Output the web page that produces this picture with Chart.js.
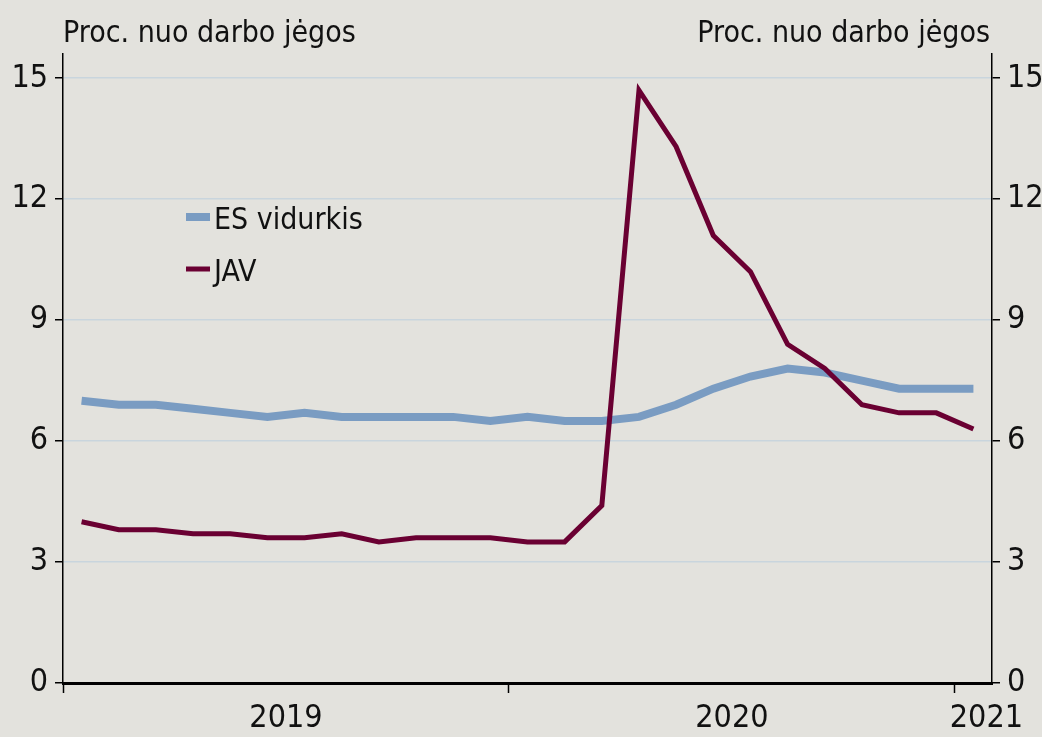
<!DOCTYPE html>
<html>
<head>
<meta charset="utf-8">
<script src="https://cdn.jsdelivr.net/npm/chart.js@4.4.0/dist/chart.umd.min.js"></script>
<style>
  html, body { margin: 0; padding: 0; background: #e3e2dd; }
  #wrap { width: 1042px; height: 737px; position: relative; }
</style>
</head>
<body>
<div id="wrap"><canvas id="unemploymentChart"></canvas></div>
<script>
const axisTitle = 'Proc. nuo darbo jėgos';
const seriesNames = ['ES vidurkis', 'JAV'];
// monthly, Jan 2019 .. Jan 2021
const esValues = [7.0, 6.9, 6.9, 6.8, 6.7, 6.6, 6.7, 6.6, 6.6, 6.6, 6.6, 6.5,
                  6.6, 6.5, 6.5, 6.6, 6.9, 7.3, 7.6, 7.8, 7.7, 7.5, 7.3, 7.3, 7.3];
const usValues = [4.0, 3.8, 3.8, 3.7, 3.7, 3.6, 3.6, 3.7, 3.5, 3.6, 3.6, 3.6,
                  3.5, 3.5, 4.4, 14.7, 13.3, 11.1, 10.2, 8.4, 7.8, 6.9, 6.7, 6.7, 6.3];
const yTicks = [0, 3, 6, 9, 12, 15];
const yearTicks = [0, 12, 24];          // month index where each year starts
const yearLabels = ['2019', '2020', '2021'];
const yearLabelPos = [6, 18, 24.85];

const FONT = "'DejaVu Sans Condensed', 'DejaVu Sans', sans-serif";
const colors = ['#7a9cc2', '#6a0032'];
const widths = [8, 5];

const toPoints = vals => vals.map((v, i) => ({ x: i + 0.5, y: v }));

const textPlugin = {
  id: 'textPlugin',
  afterDraw(chart) {
    const ctx = chart.ctx;
    const area = chart.chartArea;
    ctx.save();
    ctx.fillStyle = '#111';
    ctx.font = '30px ' + FONT;
    ctx.textBaseline = 'alphabetic';
    ctx.textAlign = 'left';
    ctx.fillText(axisTitle, area.left, 42);
    ctx.textAlign = 'right';
    ctx.fillText(axisTitle, area.right - 2, 42);

    // legend inside plot
    ctx.font = '30px ' + FONT;
    ctx.textAlign = 'left';
    const rows = [217, 269];
    chart.data.datasets.forEach((ds, i) => {
      ctx.strokeStyle = ds.borderColor;
      ctx.lineWidth = ds.borderWidth;
      ctx.beginPath();
      ctx.moveTo(186, rows[i]);
      ctx.lineTo(210, rows[i]);
      ctx.stroke();
      ctx.fillText(ds.label, 214, rows[i] + 12);
    });
    ctx.restore();
  }
};

const yAxis = (position) => ({
  type: 'linear',
  position: position,
  min: 0,
  max: 15.6,
  afterBuildTicks: s => { s.ticks = yTicks.map(v => ({ value: v })); },
  afterFit: s => { s.width = position === 'left' ? 63 : 50; },
  border: { color: '#000', width: 1.5 },
  grid: {
    drawOnChartArea: position === 'left',
    color: '#c9d5dd',
    lineWidth: 1.5,
    tickColor: '#000',
    tickLength: 8,
    tickWidth: 1.5
  },
  ticks: {
    color: '#111',
    padding: 7,
    font: { family: FONT, size: 32 }
  }
});

new Chart(document.getElementById('unemploymentChart').getContext('2d'), {
  type: 'line',
  data: {
    datasets: [
      {
        label: seriesNames[0],
        data: toPoints(esValues),
        borderColor: colors[0],
        borderWidth: widths[0],
        order: 1
      },
      {
        label: seriesNames[1],
        data: toPoints(usValues),
        borderColor: colors[1],
        borderWidth: widths[1],
        order: 0
      }
    ]
  },
  options: {
    responsive: true,
    maintainAspectRatio: false,
    animation: false,
    layout: { padding: { top: 54, left: 0, right: 0, bottom: 0 } },
    elements: {
      point: { radius: 0 },
      line: { tension: 0, borderJoinStyle: 'miter' }
    },
    plugins: {
      legend: { display: false },
      tooltip: { enabled: false }
    },
    scales: {
      x: {
        type: 'linear',
        min: 0,
        max: 25,
        afterBuildTicks: s => {
          s.ticks = yearTicks.concat(yearLabelPos).sort((a, b) => a - b).map(v => ({ value: v }));
        },
        afterFit: s => { s.height = 54; },
        border: { color: '#000', width: 3 },
        grid: {
          drawOnChartArea: false,
          tickLength: 10,
          tickWidth: 1.5,
          tickColor: c => (c.tick && yearTicks.includes(c.tick.value)) ? '#000' : 'rgba(0,0,0,0)'
        },
        ticks: {
          autoSkip: false,
          maxRotation: 0,
          color: '#111',
          padding: 6,
          font: { family: FONT, size: 32 },
          callback: v => {
            const i = yearLabelPos.indexOf(v);
            return i >= 0 ? yearLabels[i] : '';
          }
        }
      },
      y: yAxis('left'),
      y2: yAxis('right')
    }
  },
  plugins: [textPlugin]
});
</script>
</body>
</html>
